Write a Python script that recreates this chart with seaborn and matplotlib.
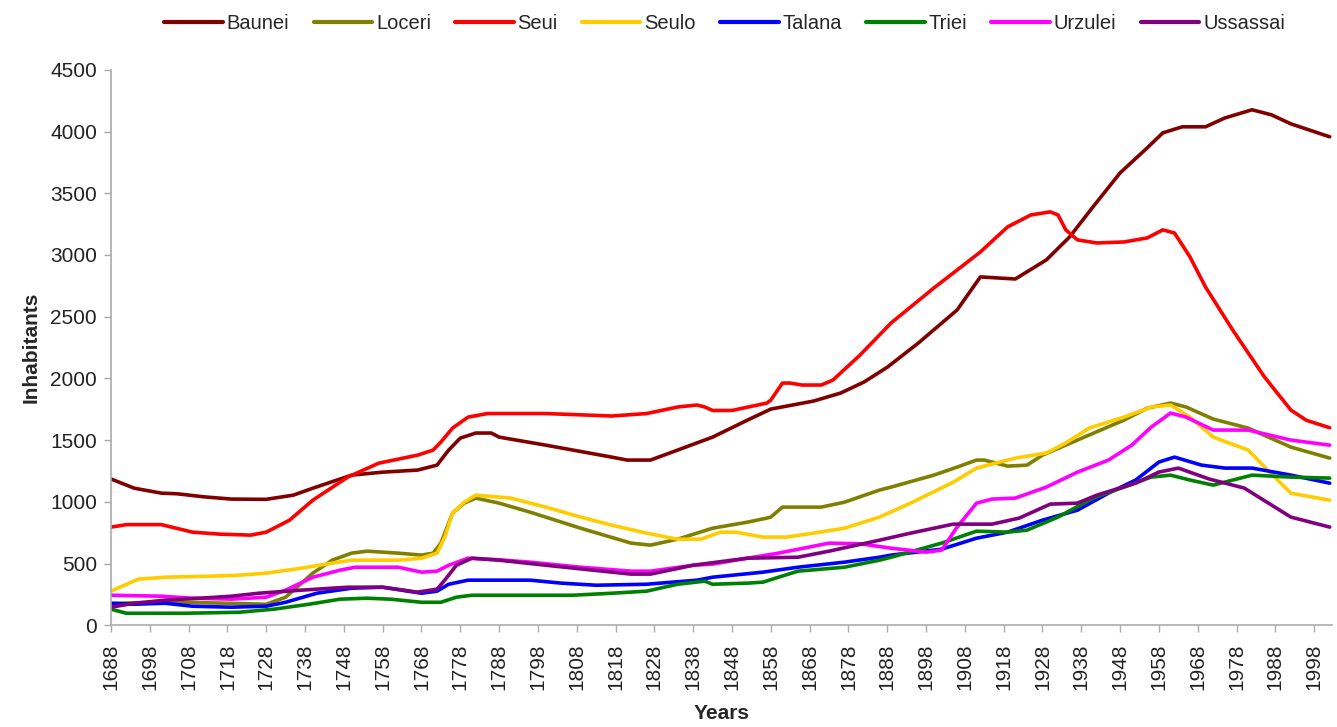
import numpy as np
import pandas as pd
import matplotlib
matplotlib.use("Agg")
import matplotlib.pyplot as plt
import seaborn as sns

# ---------------- data ----------------
baunei_years = [1688, 1694, 1701, 1705, 1712, 1719, 1728, 1735, 1740, 1750, 1758, 1767, 1772, 1775,
                1778, 1782, 1786, 1788, 1800, 1817, 1821, 1827, 1834, 1843, 1852, 1858, 1869, 1876,
                1882, 1888, 1896, 1906, 1912, 1921, 1929, 1935, 1941, 1948, 1955, 1959, 1964, 1970,
                1975, 1982, 1987, 1992, 2002]
baunei_vals = [1185, 1110, 1070, 1065, 1040, 1022, 1020, 1054, 1110, 1216, 1240, 1257, 1297, 1419,
               1516, 1557, 1557, 1524, 1459, 1362, 1338, 1338, 1419, 1524, 1662, 1751, 1816, 1881,
               1970, 2090, 2286, 2554, 2822, 2805, 2960, 3146, 3389, 3665, 3868, 3989, 4038, 4038,
               4110, 4176, 4135, 4062, 3957]

loceri_years = [1688, 1694, 1707, 1728, 1733, 1740, 1745, 1750, 1754, 1762, 1768, 1771, 1773, 1776,
                1779, 1782, 1788, 1796, 1809, 1822, 1827, 1834, 1843, 1852, 1857, 1858, 1861, 1871,
                1877, 1886, 1889, 1900, 1906, 1911, 1913, 1919, 1924, 1928, 1937, 1949, 1955, 1961,
                1965, 1972, 1981, 1992, 2002]
loceri_vals = [175, 182, 186, 170, 227, 422, 527, 584, 600, 584, 568, 584, 665, 908,
               989, 1030, 989, 916, 786, 665, 649, 697, 786, 835, 868, 876, 957, 957,
               997, 1095, 1119, 1216, 1281, 1338, 1338, 1289, 1297, 1378, 1500, 1662, 1759, 1800,
               1768, 1670, 1597, 1443, 1354]

seui_years = [1688, 1692, 1701, 1709, 1716, 1724, 1728, 1734, 1740, 1749, 1757, 1767, 1771, 1773,
              1776, 1780, 1785, 1800, 1817, 1826, 1834, 1839, 1841, 1843, 1848, 1857, 1858, 1861,
              1863, 1866, 1871, 1874, 1881, 1889, 1900, 1912, 1919, 1925, 1930, 1932, 1934, 1937,
              1942, 1949, 1955, 1959, 1962, 1966, 1970, 1977, 1985, 1988, 1992, 1996, 2002]
seui_vals = [795, 815, 815, 754, 738, 730, 754, 851, 1013, 1200, 1313, 1378, 1419, 1484,
             1597, 1686, 1715, 1715, 1695, 1715, 1768, 1784, 1768, 1740, 1740, 1800, 1824, 1962,
             1962, 1946, 1946, 1986, 2189, 2449, 2732, 3024, 3227, 3324, 3349, 3324, 3203, 3122,
             3097, 3105, 3138, 3203, 3178, 2984, 2740, 2392, 2020, 1900, 1743, 1660, 1600]

seulo_years = [1688, 1695, 1702, 1713, 1721, 1728, 1737, 1745, 1750, 1762, 1768, 1772, 1774, 1776,
               1779, 1782, 1788, 1791, 1800, 1809, 1817, 1826, 1834, 1840, 1845, 1849, 1856, 1862,
               1869, 1877, 1886, 1894, 1905, 1911, 1921, 1929, 1934, 1940, 1949, 1956, 1961, 1966,
               1972, 1981, 1986, 1992, 2002]
seulo_vals = [276, 373, 389, 397, 405, 422, 462, 503, 527, 527, 543, 584, 714, 908,
              997, 1054, 1038, 1030, 957, 876, 811, 746, 697, 697, 754, 754, 714, 714,
              746, 786, 876, 989, 1159, 1273, 1354, 1395, 1476, 1597, 1686, 1768, 1784, 1686,
              1524, 1419, 1257, 1070, 1013]

talana_years = [1688, 1694, 1702, 1709, 1719, 1728, 1733, 1741, 1750, 1758, 1768, 1772, 1775, 1780,
                1788, 1796, 1804, 1813, 1826, 1839, 1843, 1856, 1865, 1877, 1886, 1889, 1902, 1911,
                1919, 1928, 1937, 1945, 1952, 1958, 1962, 1969, 1975, 1982, 1992, 2002]
talana_vals = [178, 170, 178, 154, 146, 154, 186, 259, 300, 308, 259, 276, 332, 365,
               365, 365, 341, 324, 332, 365, 389, 430, 470, 511, 551, 568, 616, 705,
               754, 851, 932, 1070, 1176, 1322, 1362, 1297, 1273, 1273, 1216, 1151]

triei_years = [1688, 1692, 1707, 1721, 1730, 1739, 1747, 1754, 1760, 1768, 1773, 1777, 1781, 1788,
               1807, 1817, 1826, 1834, 1841, 1843, 1852, 1856, 1860, 1865, 1877, 1886, 1889, 1902,
               1911, 1919, 1924, 1932, 1941, 1949, 1956, 1961, 1966, 1972, 1977, 1982, 1992, 2002]
triei_vals = [130, 97, 97, 105, 130, 170, 211, 219, 211, 186, 186, 227, 243, 243,
              243, 259, 276, 332, 357, 332, 341, 349, 389, 438, 470, 527, 551, 665,
              762, 754, 770, 876, 1030, 1119, 1200, 1216, 1176, 1135, 1176, 1216, 1200, 1192]

urzulei_years = [1688, 1701, 1709, 1719, 1728, 1733, 1740, 1747, 1751, 1762, 1768, 1772, 1775, 1780,
                 1788, 1796, 1809, 1822, 1827, 1838, 1843, 1852, 1860, 1873, 1881, 1889, 1898, 1902,
                 1906, 1911, 1915, 1921, 1929, 1937, 1945, 1951, 1956, 1961, 1965, 1972, 1981, 1992,
                 2002]
urzulei_vals = [243, 235, 219, 211, 227, 284, 389, 446, 470, 470, 430, 438, 486, 543,
                530, 511, 470, 438, 438, 486, 495, 543, 584, 665, 660, 624, 592, 608,
                795, 989, 1022, 1030, 1119, 1240, 1338, 1459, 1605, 1719, 1686, 1581, 1581, 1500,
                1459]

ussassai_years = [1688, 1694, 1702, 1711, 1719, 1726, 1737, 1749, 1758, 1767, 1772, 1774, 1777, 1781,
                  1788, 1800, 1822, 1827, 1838, 1852, 1865, 1873, 1886, 1894, 1905, 1915, 1922, 1930,
                  1937, 1942, 1952, 1958, 1963, 1971, 1980, 1985, 1992, 2002]
ussassai_vals = [146, 178, 203, 219, 235, 259, 284, 308, 308, 268, 292, 365, 486, 543,
                 527, 486, 414, 414, 486, 543, 551, 600, 689, 746, 819, 819, 868, 981,
                 989, 1054, 1151, 1241, 1273, 1184, 1111, 1013, 876, 795]

towns = ["Baunei", "Loceri", "Seui", "Seulo", "Talana", "Triei", "Urzulei", "Ussassai"]
series = {
    "Baunei": (baunei_years, baunei_vals),
    "Loceri": (loceri_years, loceri_vals),
    "Seui": (seui_years, seui_vals),
    "Seulo": (seulo_years, seulo_vals),
    "Talana": (talana_years, talana_vals),
    "Triei": (triei_years, triei_vals),
    "Urzulei": (urzulei_years, urzulei_vals),
    "Ussassai": (ussassai_years, ussassai_vals),
}
colors = ["#800000", "#808000", "#FF0000", "#FFCC00", "#0000FF", "#008000", "#FF00FF", "#800080"]
tick_years = list(range(1688, 2000, 10))
y_ticks = list(range(0, 4501, 500))

frames = []
for t in towns:
    yrs, vals = series[t]
    frames.append(pd.DataFrame({"Years": yrs, "Inhabitants": vals, "Town": t}))
df = pd.concat(frames, ignore_index=True)

# ---------------- plotting ----------------
sns.set_theme(style="white")
plt.rcParams["font.family"] = ["Liberation Sans", "DejaVu Sans"]

fig = plt.figure(figsize=(13.37, 7.27), dpi=100)
ax = fig.add_axes([0.083, 0.140, 0.913, 0.764])

sns.lineplot(data=df, x="Years", y="Inhabitants", hue="Town", hue_order=towns,
             palette=colors, linewidth=2.6, ax=ax, sort=True, estimator=None, legend=True)
for ln in ax.get_lines():
    ln.set_solid_joinstyle("round")
    ln.set_solid_capstyle("round")

ax.set_xlim(1688, 2002.5)
ax.set_ylim(0, 4500)
ax.set_xticks(tick_years)
ax.set_xticklabels([str(y) for y in tick_years], rotation=90, fontsize=15, color="#222222")
ax.set_yticks(y_ticks)
ax.set_yticklabels([str(v) for v in y_ticks], fontsize=15, color="#222222")
ax.set_xlabel("Years", fontsize=15, fontweight="bold", labelpad=10)
ax.set_ylabel("Inhabitants", fontsize=15, fontweight="bold", labelpad=7)

for side in ["top", "right"]:
    ax.spines[side].set_visible(False)
for side in ["left", "bottom"]:
    ax.spines[side].set_color("#aaaaaa")
    ax.spines[side].set_linewidth(1.2)
ax.tick_params(axis="both", direction="out", length=5, width=1, color="#aaaaaa",
               left=True, bottom=True)
ax.tick_params(axis="x", pad=8)
ax.tick_params(axis="y", pad=5)
ax.grid(False)

handles, labels = ax.get_legend_handles_labels()
ax.get_legend().remove()
for h in handles:
    h.set_linewidth(3)
fig.legend(handles, labels, loc="upper center", bbox_to_anchor=(0.542, 1.005), ncol=8,
           frameon=False, fontsize=14.5, handlelength=2.9, handletextpad=0.2, columnspacing=1.2)

fig.savefig("out.png", dpi=100)
